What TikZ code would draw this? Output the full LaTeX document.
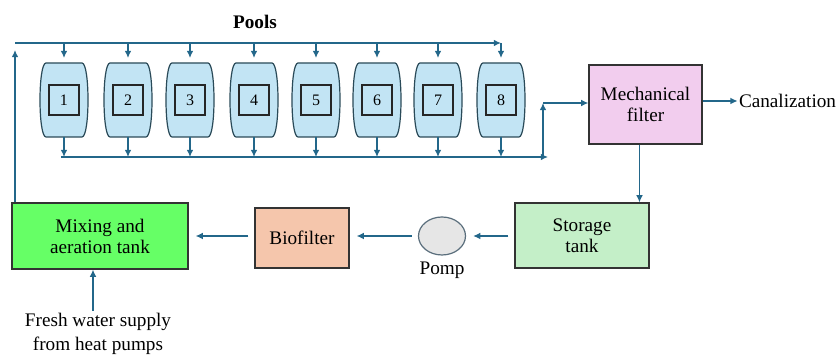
\documentclass[tikz,border=0pt]{standalone}
\usepackage{fontspec}
\setmainfont{Liberation Serif}
\usetikzlibrary{positioning, shapes.geometric, arrows.meta}

\definecolor{flowblue}{HTML}{23678A}
\definecolor{poolfill}{HTML}{C2E4F4}
\definecolor{pooledge}{HTML}{2A4A58}
\definecolor{mechfill}{HTML}{F2CDEE}
\definecolor{storefill}{HTML}{C4EFC8}
\definecolor{biofill}{HTML}{F5C6AC}
\definecolor{mixfill}{HTML}{66FF66}
\definecolor{pumpfill}{HTML}{E6E6E6}
\definecolor{pumpedge}{HTML}{5A6E7C}

\tikzset{
  flow/.style={draw=flowblue, line width=0.7pt, -{Latex[length=3.6pt,width=3.4pt]}},
  unit/.style={draw=black!80, line width=0.6pt, align=center, inner sep=1pt},
  pool/.style={draw=pooledge, fill=poolfill, line width=0.6pt},
  numbox/.style={draw=black!85, line width=0.6pt, minimum size=15pt, inner sep=0pt, font=\fontsize{8}{9}\selectfont},
  gap/.style={shorten <=3pt, shorten >=3.5pt}
}

\begin{document}
\begin{tikzpicture}[x=0.5pt, y=-0.5pt, font=\fontsize{9.6}{10.5}\selectfont]
  \useasboundingbox (0,0) rectangle (837,356);

  \node[font=\fontsize{9.6}{10.5}\selectfont\bfseries] (title) at (255,22) {Pools};

  \coordinate (topL) at (15,43);
  \coordinate (topR) at (501,43);
  \coordinate (botL) at (61,157);
  \coordinate (botR) at (548,157);
  \coordinate (rise) at (543,103);
  \coordinate (upend) at (15,50);

  \foreach \i/\x in {1/64,2/128,3/190,4/254,5/316,6/377,7/438,8/501}{
    \draw[pool] (\x-18,63) -- (\x+18,63) .. controls (\x+26,63) and (\x+26,137) .. (\x+18,137)
      -- (\x-18,137) .. controls (\x-26,137) and (\x-26,63) .. (\x-18,63) -- cycle;
    \node[numbox] (p\i) at (\x,100) {\i};
    \coordinate (in\i) at (\x,58);
    \coordinate (out\i) at (\x,137);
    \draw[flow] (in\i |- topL) -- (in\i);
    \draw[flow] (out\i) -- (out\i |- botL);
  }

  \node[unit, fill=mechfill, minimum width=56.5pt, minimum height=39.5pt] (mech) at (645.5,104.5) {Mechanical\\filter};
  \node[inner sep=0.5pt, right=17.5pt of mech.east, yshift=1.75pt] (canal) {Canalization};
  \node[unit, fill=storefill, minimum width=67pt, minimum height=32.5pt] (store) at (582,235.5) {Storage\\tank};
  \node[ellipse, draw=pumpedge, fill=pumpfill, line width=0.6pt, minimum width=23.5pt, minimum height=19pt, inner sep=0pt] (pump) at (442,236) {};
  \node[below=2pt of pump, inner sep=1pt] (pomp) {Pomp};
  \node[unit, fill=biofill, minimum width=47pt, minimum height=30pt] (bio) at (302,238) {Biofilter};
  \node[unit, fill=mixfill, minimum width=88pt, minimum height=33pt] (mix) at (100,236) {Mixing and\\aeration tank};
  \node[align=center, inner sep=1pt, font=\fontsize{9.6}{11.8}\selectfont] (fresh) at (98,334) {Fresh water supply\\from heat pumps};

  \draw[flow] (upend |- mix.north) -- (upend);
  \draw[flow] (topL) -- (topR);
  \draw[flow] (botL) -- (botR);
  \draw[flow] (rise |- botL) -- (rise);
  \draw[flow] (rise) -- (mech.west |- rise);
  \draw[flow] (mech.east |- canal) -- (canal.west);
  \draw[flow] ([xshift=-3pt]mech.south) -- ([xshift=-3pt]mech.south |- store.north);
  \draw[flow, gap] (store.west |- pump) -- (pump.east);
  \draw[flow, gap] (pump.west) -- (pump.west -| bio.east);
  \draw[flow, gap] (bio.west |- pump) -- (mix.east |- pump);
  \draw[flow] ([xshift=-2.5pt]fresh.north) -- ([xshift=-2.5pt]fresh.north |- mix.south);
\end{tikzpicture}
\end{document}
